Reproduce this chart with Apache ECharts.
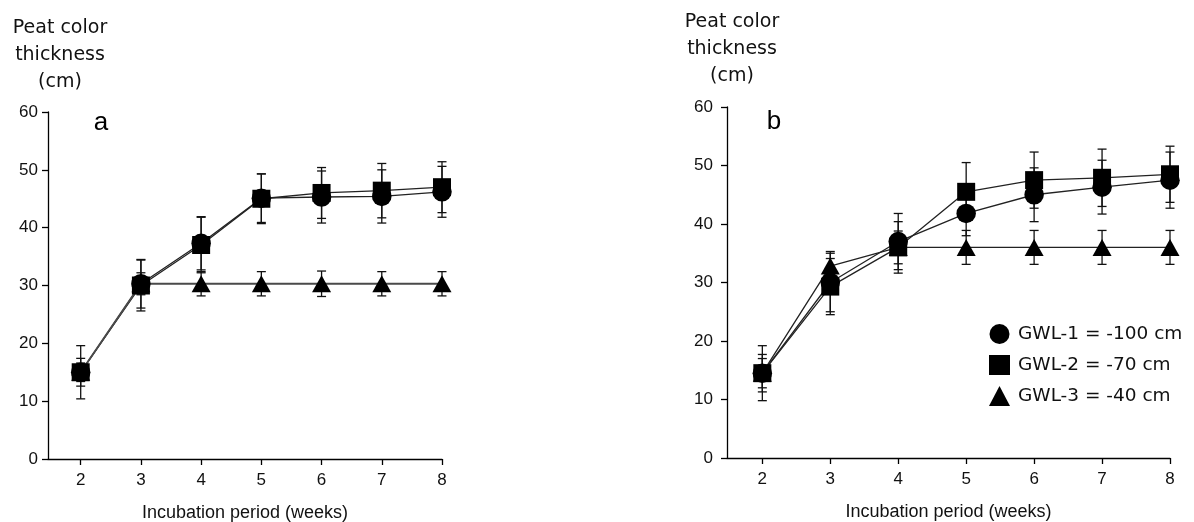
<!DOCTYPE html>
<html>
<head>
<meta charset="utf-8">
<script src="https://cdn.jsdelivr.net/npm/echarts@6/dist/echarts.min.js"></script>
<style>html,body{margin:0;padding:0;background:#fff;}#c{width:1194px;height:522px;}</style>
</head>
<body>
<div id="c"></div>
<script>
// ---------- data ----------
const weeks = [2, 3, 4, 5, 6, 7, 8];
const xTicks = [2, 3, 4, 5, 6, 7, 8];
const yTicks = [0, 10, 20, 30, 40, 50, 60];
const seriesNames = ['GWL-1 = -100 cm', 'GWL-2 = -70 cm', 'GWL-3 = -40 cm'];

// Panel a
const aGWL1 = [15.0, 30.3, 37.3, 45.1, 45.3, 45.4, 46.2];
const aGWL2 = [15.0, 30.0, 37.0, 45.0, 46.0, 46.4, 47.0];
const aGWL3 = [15.0, 30.3, 30.3, 30.3, 30.3, 30.3, 30.3];
const aGWL1Err = [4.6, 4.2, 4.6, 4.2, 4.5, 4.6, 4.4];
const aGWL2Err = [2.4, 4.4, 4.8, 4.3, 4.4, 4.7, 4.4];
const aGWL3Err = [1.6, 1.9, 2.1, 2.1, 2.2, 2.1, 2.1];

// Panel b
const bGWL1 = [14.5, 30.0, 37.0, 41.8, 45.0, 46.3, 47.5];
const bGWL2 = [14.5, 29.3, 36.0, 45.5, 47.5, 47.9, 48.5];
const bGWL3 = [14.5, 32.8, 36.0, 36.0, 36.0, 36.0, 36.0];
const bGWL1Err = [4.7, 5.0, 4.8, 3.8, 4.6, 4.6, 4.8];
const bGWL2Err = [3.2, 4.8, 4.4, 5.0, 4.8, 4.9, 4.8];
const bGWL3Err = [2.5, 2.5, 2.8, 2.9, 2.9, 2.9, 2.9];

// ---------- helpers ----------
const pts = (vals) => weeks.map((w, i) => [w, vals[i]]);
const errPts = (vals, errs) => weeks.map((w, i) => [w, vals[i] - errs[i], vals[i] + errs[i]]);

const symbols = ['circle', 'rect', 'triangle'];
const symbolSizes = [19.5, 18, [19, 17]];

function errorRender(params, api) {
  const x = api.value(0);
  const lo = api.coord([x, api.value(1)]);
  const hi = api.coord([x, api.value(2)]);
  const w = 4.5;
  const st = { stroke: '#111', lineWidth: 1.3 };
  return {
    type: 'group',
    children: [
      { type: 'line', shape: { x1: hi[0], y1: hi[1], x2: lo[0], y2: lo[1] }, style: st },
      { type: 'line', shape: { x1: hi[0] - w, y1: hi[1], x2: hi[0] + w, y2: hi[1] }, style: st },
      { type: 'line', shape: { x1: lo[0] - w, y1: lo[1], x2: lo[0] + w, y2: lo[1] }, style: st }
    ]
  };
}

function panelSeries(idx, vals, errs, triLine) {
  const out = [];
  vals.forEach((v, k) => {
    out.push({
      type: 'line', name: 'line' + idx + k, xAxisIndex: idx, yAxisIndex: idx,
      data: pts(v), showSymbol: false, symbol: 'none', silent: true, z: 2,
      lineStyle: k === 2 && triLine ? { color: '#4a4a4a', width: 2 } : { color: '#222', width: 1.3 }
    });
  });
  vals.forEach((v, k) => {
    out.push({
      type: 'custom', name: 'err' + idx + k, xAxisIndex: idx, yAxisIndex: idx,
      renderItem: errorRender, data: errPts(v, errs[k]), z: 3, silent: true
    });
  });
  vals.forEach((v, k) => {
    out.push({
      type: 'scatter', name: seriesNames[k], xAxisIndex: idx, yAxisIndex: idx,
      data: pts(v), symbol: symbols[k], symbolSize: symbolSizes[k], z: 4,
      itemStyle: { color: '#000', opacity: 1 }
    });
  });
  return out;
}

const labelFont = { fontFamily: 'Liberation Sans, Arial, sans-serif', fontSize: 17, color: '#111' };

function xAxis(idx, min) {
  return {
    type: 'value', gridIndex: idx, min: min, max: 8,
    name: 'Incubation period (weeks)', nameLocation: 'middle', nameGap: 45,
    nameTextStyle: { fontFamily: 'Liberation Sans, Arial, sans-serif', fontSize: 18, color: '#111' },
    axisLine: { lineStyle: { color: '#000', width: 1.3 } },
    axisTick: { customValues: xTicks, length: 6, lineStyle: { color: '#000', width: 1.3 } },
    axisLabel: Object.assign({ customValues: xTicks, margin: 13 }, labelFont),
    splitLine: { show: false }
  };
}
function yAxis(idx, margin) {
  return {
    type: 'value', gridIndex: idx, min: 0, max: 60, interval: 10,
    axisLine: { show: true, lineStyle: { color: '#000', width: 1.3 } },
    axisTick: { show: true, length: 6, lineStyle: { color: '#000', width: 1.3 } },
    axisLabel: Object.assign({ margin: margin }, labelFont),
    splitLine: { show: false }
  };
}

const nameFont = { fontFamily: 'DejaVu Sans, sans-serif', fontSize: 19, fill: '#111' };
function yName(cx, y0) {
  return ['Peat color', 'thickness', '(cm)'].map((t, i) => ({
    type: 'text', x: cx, y: y0 + i * 27,
    style: Object.assign({ text: t, textAlign: 'center', textVerticalAlign: 'middle' }, nameFont)
  }));
}

const chart = echarts.init(document.getElementById('c'), null, { renderer: 'canvas' });
chart.setOption({
  animation: false,
  backgroundColor: '#fff',
  grid: [
    { left: 48, top: 112, width: 394, height: 347, containLabel: false, outerBoundsMode: 'none' },
    { left: 727, top: 107, width: 443, height: 351, containLabel: false, outerBoundsMode: 'none' }
  ],
  xAxis: [xAxis(0, 1.457), xAxis(1, 1.48)],
  yAxis: [yAxis(0, 10), yAxis(1, 14)],
  legend: {
    orient: 'vertical', left: 989, top: 324, padding: 0, itemWidth: 21, itemHeight: 20, itemGap: 11,
    selectedMode: false,
    data: seriesNames.map((n, k) => ({ name: n, icon: symbols[k] })),
    itemStyle: { color: '#000' },
    textStyle: { fontFamily: 'DejaVu Sans, sans-serif', fontSize: 18.5, color: '#111', padding: [0, 0, 0, 3] }
  },
  graphic: [
    ...yName(60, 28),
    ...yName(732, 22),
    { type: 'text', x: 101, y: 123, style: { text: 'a', textAlign: 'center', textVerticalAlign: 'middle', fontFamily: 'Liberation Sans, Arial, sans-serif', fontSize: 26, fill: '#000' } },
    { type: 'text', x: 774, y: 122, style: { text: 'b', textAlign: 'center', textVerticalAlign: 'middle', fontFamily: 'Liberation Sans, Arial, sans-serif', fontSize: 26, fill: '#000' } }
  ],
  series: [
    ...panelSeries(0, [aGWL1, aGWL2, aGWL3], [aGWL1Err, aGWL2Err, aGWL3Err], true),
    ...panelSeries(1, [bGWL1, bGWL2, bGWL3], [bGWL1Err, bGWL2Err, bGWL3Err], false)
  ]
});
</script>
</body>
</html>
